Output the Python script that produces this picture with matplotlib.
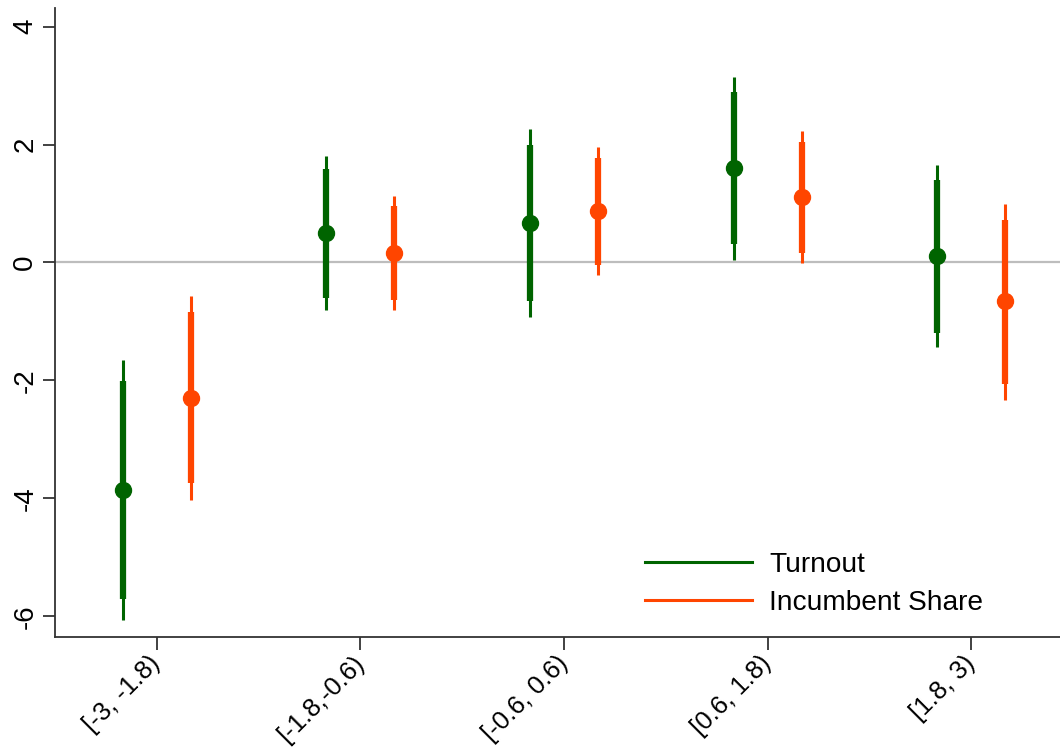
import matplotlib
matplotlib.use("Agg")
import matplotlib.pyplot as plt
import numpy as np

plt.rcParams['font.family'] = ['Liberation Sans', 'DejaVu Sans']

categories = ["[-3, -1.8)", "[-1.8,-0.6)", "[-0.6, 0.6)", "[0.6, 1.8)", "[1.8, 3)"]

turnout_est = [-3.86, 0.50, 0.67, 1.60, 0.11]
turnout_lo90 = [-5.70, -0.60, -0.66, 0.31, -1.19]
turnout_hi90 = [-2.01, 1.59, 2.00, 2.89, 1.40]
turnout_lo95 = [-6.06, -0.81, -0.92, 0.05, -1.44]
turnout_hi95 = [-1.66, 1.81, 2.26, 3.15, 1.66]

incumb_est = [-2.29, 0.16, 0.87, 1.11, -0.66]
incumb_lo90 = [-3.73, -0.64, -0.04, 0.16, -2.06]
incumb_hi90 = [-0.84, 0.95, 1.77, 2.04, 0.72]
incumb_lo95 = [-4.02, -0.80, -0.22, -0.01, -2.33]
incumb_hi95 = [-0.56, 1.12, 1.95, 2.23, 0.99]

green = "#006400"
orange = "#FF4500"

fig = plt.figure(figsize=(10.6, 7.53), dpi=100)
ax = fig.add_axes([0.0519, 0.154, 0.9481, 0.835])

x = np.arange(1, len(categories) + 1)
off = 1/6

ax.axhline(0, color="#bdbdbd", lw=1.6, zorder=1)

for xs, est, lo9, hi9, lo5, hi5, col in [
    (x - off, turnout_est, turnout_lo90, turnout_hi90, turnout_lo95, turnout_hi95, green),
    (x + off, incumb_est, incumb_lo90, incumb_hi90, incumb_lo95, incumb_hi95, orange),
]:
    ax.vlines(xs, lo5, hi5, color=col, lw=2.2, zorder=2)
    ax.vlines(xs, lo9, hi9, color=col, lw=4.5, zorder=3)
    ax.plot(xs, est, 'o', color=col, ms=11.5, zorder=4)

ax.plot([], [], color=green, lw=2.2, label="Turnout")
ax.plot([], [], color=orange, lw=2.2, label="Incumbent Share")
leg = ax.legend(loc="lower left", bbox_to_anchor=(0.587, 0.033), frameon=False,
                fontsize=20.2, handlelength=3.8, handletextpad=0.63, labelspacing=0.45,
                borderpad=0, borderaxespad=0)

ax.set_xlim(0.5, 5.436)
ax.set_ylim(-6.35, 4.31)
ax.set_yticks([-6, -4, -2, 0, 2, 4])
ax.set_yticklabels(["-6", "-4", "-2", "0", "2", "4"], rotation=90, va="center", fontsize=20)
ax.set_xticks(x)
ax.set_xticklabels(categories, rotation=45, ha="right", va="center", rotation_mode="anchor", fontsize=18.5)

for s in ["top", "right"]:
    ax.spines[s].set_visible(False)
for s in ["left", "bottom"]:
    ax.spines[s].set_color("#333333")
    ax.spines[s].set_linewidth(1.3)
ax.tick_params(axis="both", length=9, width=1.3, color="#333333", labelcolor="black", pad=6)
ax.tick_params(axis="x", pad=7)
ax.tick_params(axis="y", pad=3)

fig.savefig("out.png", dpi=100)
